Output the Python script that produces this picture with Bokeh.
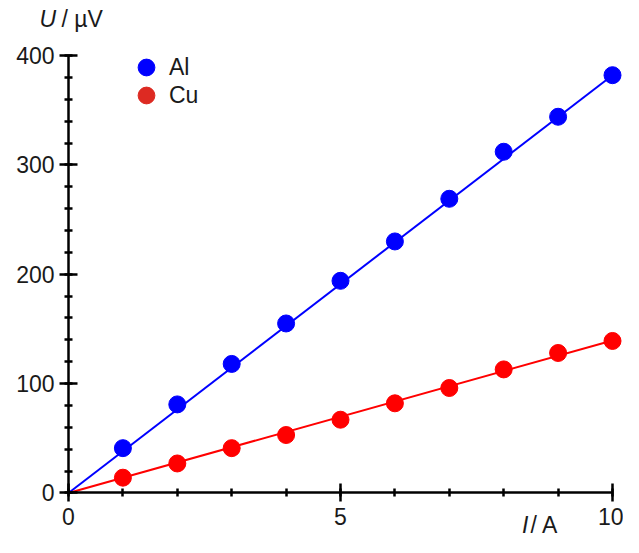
from bokeh.plotting import figure
from bokeh.models import (LinearAxis, Range1d, Label, Legend, LegendItem,
                          SingleIntervalTicker)
from bokeh.embed import file_html
from bokeh.resources import INLINE

# ---- data ----
current_A = [1, 2, 3, 4, 5, 6, 7, 8, 9, 10]
U_Al = [41, 81, 118, 155, 194, 230, 269, 312, 344, 382]
U_Cu = [14, 27, 41, 53, 67, 82, 96, 113, 128, 139]
fit_I = [0, 10]
fit_Al = [0, 382]
fit_Cu = [0, 139.5]
series_names = ["Al", "Cu"]

FONT = "Liberation Sans"
FS = "23px"
TXT = "#1a1a1a"

p = figure(width=623, height=537, output_backend="svg", toolbar_location=None,
           x_range=Range1d(-1.25, 10.2022), y_range=Range1d(-40.69, 450.29),
           x_axis_type=None, y_axis_type=None, min_border=0)
p.outline_line_color = None
p.xgrid.visible = False
p.ygrid.visible = False
p.background_fill_color = None
p.border_fill_color = "white"

def style_axis(ax):
    ax.fixed_location = 0
    ax.axis_line_width = 2.5
    ax.axis_line_color = "black"
    ax.major_tick_line_width = 2.5
    ax.minor_tick_line_width = 2.5
    ax.major_tick_in = 9
    ax.major_tick_out = 9
    ax.minor_tick_in = 4
    ax.minor_tick_out = 4
    ax.major_label_text_font = FONT
    ax.major_label_text_font_size = FS
    ax.major_label_text_color = TXT

xaxis = LinearAxis(ticker=SingleIntervalTicker(interval=5, num_minor_ticks=5),
                   bounds=(0, 10))
style_axis(xaxis)
xaxis.major_label_standoff = 6
yaxis = LinearAxis(ticker=SingleIntervalTicker(interval=100, num_minor_ticks=5),
                   bounds=(0, 400))
style_axis(yaxis)
yaxis.major_label_standoff = 5
p.add_layout(xaxis, "below")
p.add_layout(yaxis, "left")

p.line(fit_I, fit_Al, line_color="#0000ff", line_width=2)
p.line(fit_I, fit_Cu, line_color="#ff0000", line_width=2)
r_al = p.scatter(current_A, U_Al, size=17, color="#0000ff")
# legend swatch colour for Cu (slightly darker red), hidden below the data points
r_cu_key = p.scatter(current_A, U_Cu, size=15, color="#dd2a22")
r_cu = p.scatter(current_A, U_Cu, size=17, color="#ff0000")

def make_legend(name, rend, loc):
    return Legend(items=[LegendItem(label=name, renderers=[rend])],
                  location=loc, glyph_width=42, glyph_height=42,
                  padding=0, margin=0, spacing=0, label_standoff=2,
                  border_line_color=None, background_fill_alpha=0,
                  label_text_font=FONT, label_text_font_size=FS,
                  label_text_color=TXT)

p.add_layout(make_legend(series_names[0], r_al, (125, 449)))
p.add_layout(make_legend(series_names[1], r_cu_key, (125, 421)))

# axis titles
Y_TITLE = 433.5
X_TITLE = -29.0
p.add_layout(Label(x=-0.533, y=Y_TITLE, text="U", text_font=FONT, text_font_size=FS,
                   text_font_style="italic", text_baseline="alphabetic",
                   text_color=TXT))
p.add_layout(Label(x=-0.13, y=Y_TITLE, text="/ µV", text_font=FONT, text_font_size=FS,
                   text_baseline="alphabetic", text_color=TXT))
p.add_layout(Label(x=8.336, y=X_TITLE, text="I", text_font=FONT, text_font_size=FS,
                   text_font_style="italic", text_baseline="alphabetic",
                   text_color=TXT))
p.add_layout(Label(x=8.493, y=X_TITLE, text="/ A", text_font=FONT, text_font_size=FS,
                   text_baseline="alphabetic", text_color=TXT))

open("out.html", "w").write(file_html(p, INLINE))
